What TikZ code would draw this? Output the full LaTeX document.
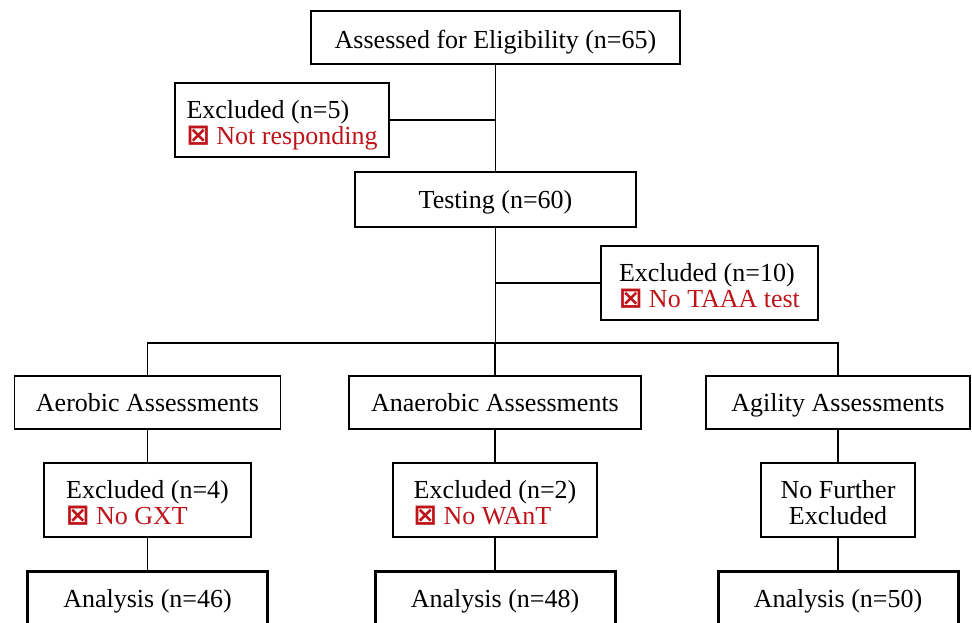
\documentclass[tikz,border=0pt]{standalone}
\usepackage{fontspec}
\setmainfont{Liberation Serif}
\newfontfamily\symfont{DejaVu Sans Bold}
\definecolor{exred}{RGB}{190,20,25}
\newcommand{\exitem}[1]{\textcolor{exred}{{\symfont\fontsize{28}{26}\selectfont ⊠} #1}}
\begin{document}
\begin{tikzpicture}[x=1pt, y=-1pt, font=\fontsize{26}{26}\selectfont, line join=miter,
    box/.style={draw, line width=1.3pt, inner sep=0pt, align=center, text height=22pt, text depth=5pt},
    twoline/.style={draw, line width=1.3pt, inner sep=0pt, text height=51pt, text depth=3pt, minimum height=74pt},
    exbox/.style={twoline, align=left},
    endbox/.style={box, line width=3pt, minimum width=240pt, minimum height=56pt},
    link/.style={line width=1.3pt}]
    \useasboundingbox (0,0) rectangle (972,622);
    % top part
    \node[box, minimum width=369pt, minimum height=53pt, text height=24pt, text depth=2pt] (elig) at (495.5,37.5) {Assessed for Eligibility (n=65)};
    \node[exbox, minimum width=214pt] (ex5) at (282,120) {Excluded (n=5)\\ \exitem{Not responding}};
    \node[box, minimum width=281pt, minimum height=55pt] (test) at (495.5,199.5) {Testing (n=60)};
    \node[exbox, minimum width=217pt] (ex10) at (709.5,283) {Excluded (n=10)\\ \exitem{No TAAA test}};
    \coordinate (split) at (495.5,343);
    % three groups
    \node[box, minimum width=266pt, minimum height=53pt] (aer) at (147.5,402.5) {Aerobic Assessments};
    \node[box, minimum width=292pt, minimum height=53pt] (anaer) at (495,402.5) {Anaerobic Assessments};
    \node[box, minimum width=264pt, minimum height=53pt] (agil) at (838,402.5) {Agility Assessments};
    \node[exbox, minimum width=207pt] (ex4) at (147.5,500) {Excluded (n=4)\\ \exitem{No GXT}};
    \node[exbox, minimum width=204pt] (ex2) at (495,500) {Excluded (n=2)\\ \exitem{No WAnT}};
    \node[twoline, align=center, minimum width=154pt] (nofur) at (838,500) {No Further\\ Excluded};
    \node[endbox] (an46) at (147.5,599) {Analysis (n=46)};
    \node[endbox] (an48) at (495,599) {Analysis (n=48)};
    \node[endbox] (an50) at (838,599) {Analysis (n=50)};
    % connectors
    \draw[link] (elig.south) -- (test.north);
    \draw[link] (ex5.east) -- (ex5.east -| elig.south);
    \draw[link] (test.south) -- (split);
    \draw[link] (ex10.west) -- (ex10.west -| test.south);
    \draw[link] (aer.north) |- (split) -| (agil.north);
    \draw[link] (split) -| (anaer.north);
    \draw[link] (aer.south) -- (ex4.north) (ex4.south) -- (an46.north);
    \draw[link] (anaer.south) -- (ex2.north) (ex2.south) -- (an48.north);
    \draw[link] (agil.south) -- (nofur.north) (nofur.south) -- (an50.north);
\end{tikzpicture}
\end{document}
